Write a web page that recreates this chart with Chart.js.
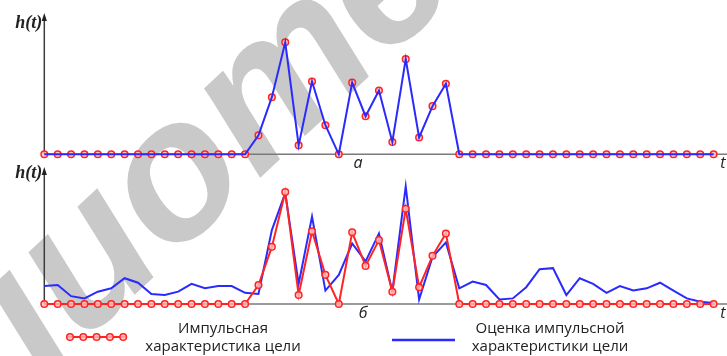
<!DOCTYPE html>
<html>
<head>
<meta charset="utf-8">
<script src="https://cdn.jsdelivr.net/npm/chart.js@4.4.1/dist/chart.umd.min.js"></script>
<style>
  html, body { margin: 0; padding: 0; background: #fff; }
  #wrap { position: relative; width: 727px; height: 356px; overflow: hidden; background: #fff; }
  #wrap canvas { position: absolute; left: 0; top: 0; }
</style>
</head>
<body>
<div id="wrap">
  <canvas id="cTop" width="727" height="356"></canvas>
  <canvas id="cBot" width="727" height="356"></canvas>
</div>
<script>
// ---- data ----
const tSamples = [0,1,2,3,4,5,6,7,8,9,10,11,12,13,14,15,16,17,18,19,20,21,22,23,24,25,26,27,28,29,30,31,32,33,34,35,36,37,38,39,40,41,42,43,44,45,46,47,48,49,50];
const impulseResponse = [0,0,0,0,0,0,0,0,0,0,0,0,0,0,0,0,
  0.17,0.51,1.00,0.08,0.65,0.26,0.00,0.64,0.34,0.57,0.11,0.85,0.15,0.43,0.63,
  0,0,0,0,0,0,0,0,0,0,0,0,0,0,0,0,0,0,0,0];
const impulseEstimate = [0.16,0.17,0.07,0.05,0.11,0.14,0.23,0.19,0.09,0.08,0.11,0.18,0.14,0.16,0.16,0.10,
  0.09,0.66,0.99,0.18,0.78,0.12,0.26,0.54,0.38,0.63,0.11,1.05,0.04,0.42,0.55,
  0.14,0.20,0.17,0.04,0.05,0.15,0.31,0.32,0.08,0.23,0.18,0.10,0.16,0.12,0.14,0.19,0.12,0.05,0.02,0.01];
const legendLabels = [["Импульсная","характеристика цели"],["Оценка импульсной","характеристики цели"]];
const panelLabels = ["a","б"];
const axisLabelY = "h(t)";
const axisLabelX = "t";

const RED = '#ff2424', BLUE = '#2a2aff';
const pts = arr => tSamples.map((t,i)=>({x:t,y:arr[i]}));

const watermark = {
  id:'watermark',
  beforeDraw(chart, args, o){
    if(!o.on) return;
    const ctx = chart.ctx;
    ctx.save();
    const fs = 196;
    ctx.font = 'italic bold ' + fs + 'px "Liberation Sans"';
    ctx.fillStyle = '#c9c9c9';
    const full = 'Библиотека';
    const pre = ctx.measureText('Библи').width;
    const ow = ctx.measureText('о').width;
    ctx.translate(178,182);
    ctx.rotate(-43*Math.PI/180);
    ctx.textBaseline = 'alphabetic';
    ctx.fillText(full, -(pre+ow/2), fs*0.27);
    ctx.restore();
  }
};

const axesPlugin = {
  id:'axesDeco',
  beforeDatasetsDraw(chart, args, o){
    const {ctx, chartArea:a} = chart;
    const y0 = chart.scales.y.getPixelForValue(0);
    ctx.save();
    ctx.strokeStyle = '#7a7a7a'; ctx.lineWidth = 1.6;
    ctx.beginPath(); ctx.moveTo(a.left, y0); ctx.lineTo(a.right, y0); ctx.stroke();
    ctx.strokeStyle = '#3c3c3c'; ctx.lineWidth = 1.5;
    ctx.beginPath(); ctx.moveTo(a.left, y0); ctx.lineTo(a.left, a.top+5); ctx.stroke();
    ctx.fillStyle = '#222';
    ctx.beginPath(); ctx.moveTo(a.left, a.top); ctx.lineTo(a.left-2.6, a.top+8); ctx.lineTo(a.left+2.6, a.top+8); ctx.closePath(); ctx.fill();
    ctx.restore();
  },
  afterDraw(chart, args, o){
    const {ctx, chartArea:a} = chart;
    const y0 = chart.scales.y.getPixelForValue(0);
    ctx.save();
    ctx.fillStyle = '#222';
    ctx.textBaseline = 'middle';
    ctx.font = 'italic bold 18px "Liberation Serif"';
    ctx.textAlign = 'right';
    ctx.fillText(axisLabelY, a.left-2, a.top+o.hOff);
    ctx.font = 'italic 16px "Open Sans"';
    ctx.textAlign = 'center';
    ctx.fillText(o.panel, o.panelX, y0+9);
    ctx.fillText(axisLabelX, a.right-4, y0+9);
    if(o.legend){
      const ly = 337;
      ctx.strokeStyle = RED; ctx.lineWidth = 2;
      ctx.beginPath(); ctx.moveTo(66, ly); ctx.lineTo(127, ly); ctx.stroke();
      for(let k=0;k<5;k++){
        ctx.beginPath(); ctx.arc(70+k*13.3, ly, 3.3, 0, Math.PI*2);
        ctx.fillStyle = 'rgba(255,190,190,0.8)'; ctx.fill();
        ctx.lineWidth = 1.5; ctx.stroke();
      }
      ctx.strokeStyle = BLUE; ctx.lineWidth = 2.5;
      ctx.beginPath(); ctx.moveTo(392, 340); ctx.lineTo(455, 340); ctx.stroke();
      ctx.fillStyle = '#222';
      ctx.font = '15px "Open Sans"';
      ctx.textAlign = 'center';
      ctx.fillText(legendLabels[0][0], 223, 329);
      ctx.fillText(legendLabels[0][1], 223, 347);
      ctx.fillText(legendLabels[1][0], 550, 329);
      ctx.fillText(legendLabels[1][1], 550, 347);
    }
    ctx.restore();
  }
};

const markerStyle = {
  borderColor: RED, pointBorderColor: RED, pointBackgroundColor: 'rgba(255,190,190,0.8)',
  pointRadius: 3.3, pointBorderWidth: 1.5, pointHoverRadius: 3.3
};

function baseOptions(pad, ymax, deco, wm){
  return {
    responsive:false, animation:false, devicePixelRatio:1,
    layout:{padding:pad, autoPadding:false},
    scales:{
      x:{type:'linear', min:0, max:51, display:false},
      y:{type:'linear', min:0, max:ymax, display:false}
    },
    plugins:{legend:{display:false}, tooltip:{enabled:false}, axesDeco:deco, watermark:{on:wm}}
  };
}

new Chart(document.getElementById('cTop'), {
  type:'line',
  data:{datasets:[
    {data:pts(impulseResponse), borderColor:BLUE, borderWidth:2, pointRadius:0, tension:0, clip:false, order:0},
    Object.assign({data:pts(impulseResponse), showLine:false, clip:false, order:1}, markerStyle)
  ]},
  options: baseOptions({top:13, bottom:201.7, left:44.3, right:0}, 1.262, {panel:panelLabels[0], panelX:358, hOff:10.5, legend:false}, true),
  plugins:[watermark, axesPlugin]
});

new Chart(document.getElementById('cBot'), {
  type:'line',
  data:{datasets:[
    {data:pts(impulseEstimate), borderColor:BLUE, borderWidth:2, pointRadius:0, tension:0, clip:false, order:1},
    Object.assign({data:pts(impulseResponse), borderWidth:2, tension:0, clip:false, order:0}, markerStyle)
  ]},
  options: baseOptions({top:167, bottom:52, left:44.3, right:0}, 1.223, {panel:panelLabels[1], panelX:363, hOff:6.5, legend:true}, false),
  plugins:[watermark, axesPlugin]
});
</script>
</body>
</html>
